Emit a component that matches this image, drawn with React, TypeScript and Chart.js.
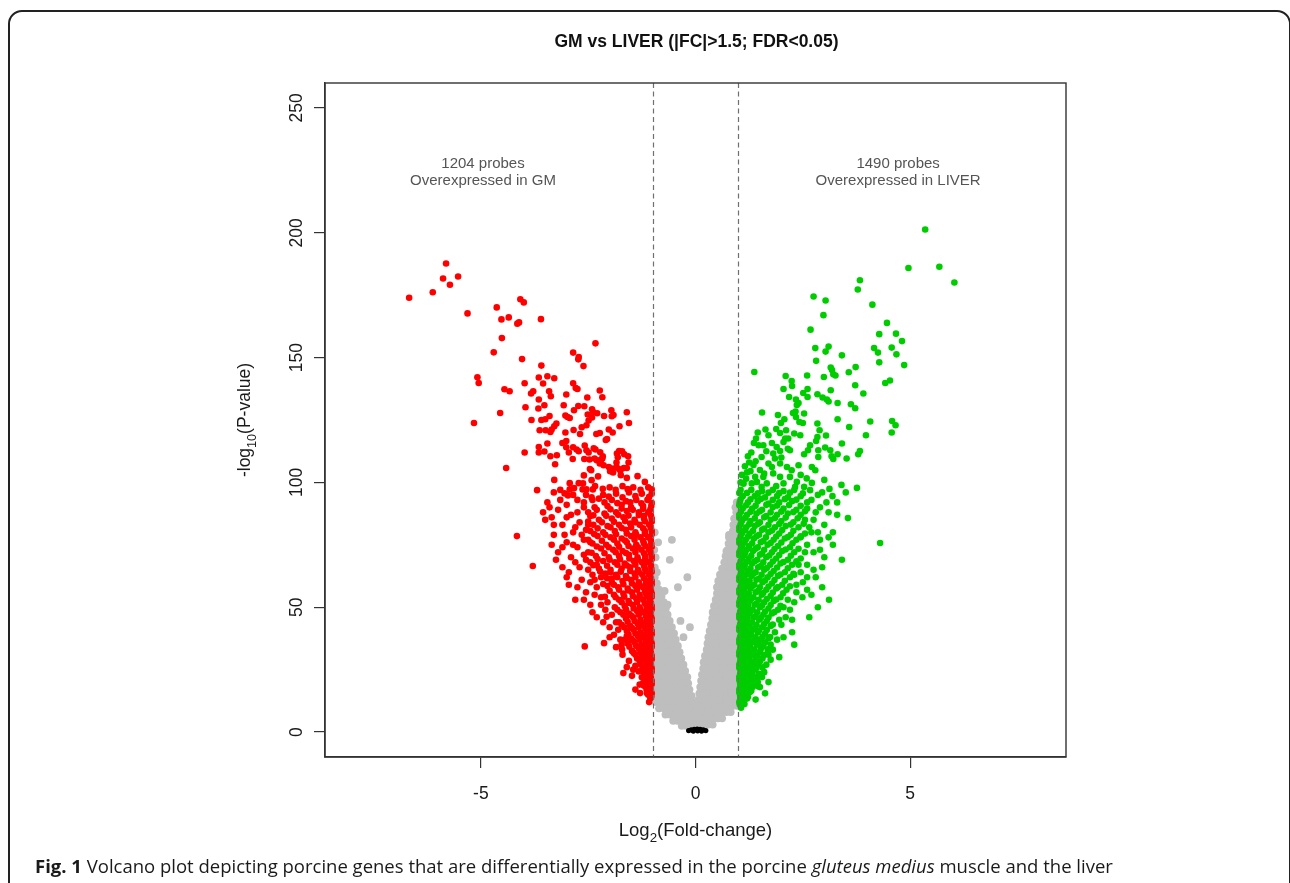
import React, { useEffect, useRef } from 'react';
import { Chart, registerables } from 'chart.js';

Chart.register(...registerables);

type Pt = [number, number];

const X_MIN = -8.63;
const X_MAX = 8.63;
const Y_MIN = -10;
const Y_MAX = 260;
const xTicks = [-5, 0, 5];
const yTicks = [0, 50, 100, 150, 200, 250];
const fcThresholds = [-1, 1];
const chartTitle = 'GM vs LIVER (|FC|>1.5; FDR<0.05)';
const annotationX = [-4.95, 4.72];
const annotationY = [226, 219];
const annotationLines = [
  ['1204 probes', 'Overexpressed in GM'],
  ['1490 probes', 'Overexpressed in LIVER'],
];

// probes overexpressed in GM (red)
const gmUpPoints: Pt[] = [
  [-6.67,174],[-6.12,176.2],[-5.88,181.7],[-5.81,187.7],[-5.72,179.2],[-5.53,182.5],[-5.31,167.7],[-4.63,170.1],[-4.52,165.3],[-4.35,166.1],
  [-4.08,173.4],[-4.0,172.1],[-4.15,163.6],[-4.11,164.1],[-3.6,165.4],[-4.51,157.8],[-4.7,152.1],[-4.04,149.4],[-2.33,155.7],[-2.85,152],
  [-2.72,150.2],[-2.73,149.3],[-2.61,146.6],[-3.59,146.8],[-5.08,142.1],[-5.05,139.8],[-4.45,137.3],[-4.33,136.5],[-5.16,123.8],[-4.55,127.8],
  [-3.98,139.7],[-3.65,142],[-3.45,142.5],[-3.29,141.7],[-3.55,139.6],[-3.78,136.5],[-3.83,135.6],[-3.41,136.5],[-3.37,134.5],[-3.65,133.2],
  [-3.52,130.9],[-3.96,130.1],[-3.66,129.6],[-3.4,126.6],[-3.5,125.3],[-3.59,125],[-3.82,125],[-3.24,123.6],[-3.29,122.5],[-3.63,120.9],
  [-3.49,120.9],[-3.38,120.2],[-3.35,121.2],[-3.98,112],[-3.65,114.2],[-3.65,112],[-3.52,112.4],[-3.45,115.6],[-3.38,110.5],[-3.23,110.9],
  [-3.27,107.3],[-4.41,105.8],[-3.29,101],[-3.69,96.9],
  [-2.85,139.7],[-2.79,137.8],[-2.75,137.4],[-2.23,136.8],[-2.17,134.1],[-3.01,135.2],[-2.52,134],[-3.07,130.9],[-2.83,128.9],[-2.73,130.6],
  [-2.59,130.5],[-2.41,129.3],[-2.38,128.1],[-2.29,127.7],[-2.41,126],[-2.51,127.2],[-2.49,124.8],[-2.13,126.6],[-1.96,128.9],[-1.91,127],
  [-1.95,126.5],[-1.6,128.1],[-1.55,123.8],[-1.77,122.5],[-3.03,126.8],[-2.98,126.2],[-2.93,125.8],[-2.65,122.1],[-2.54,122.9],[-3.03,120],
  [-2.84,121],[-2.69,119.4],[-2.31,119.4],[-2.23,119.8],[-2.09,117],[-2.06,117.4],[-2.02,121.2],[-1.93,120],[-3.1,115.8],[-3.01,116.6],
  [-3.01,114.1],[-2.85,114.1],[-2.77,113.2],[-2.72,112.5],[-2.95,112],[-2.86,109.4],[-2.58,114.8],[-2.54,112.9],[-2.49,112],[-2.37,113.7],
  [-2.33,113.2],[-2.22,112.1],[-2.16,110.5],[-2.59,109.4],[-2.47,109.2],[-2.35,109.6],[-2.3,108.9],[-2.23,108.9],[-2.17,109.6],[-1.83,111.6],
  [-1.78,112.6],[-1.71,112.5],[-1.66,111.3],[-1.57,110.5],[-1.81,110.1],[-1.84,108],[-1.56,108],[-2.46,105.4],[-2.43,104.9],[-2.23,107.6],
  [-2.2,107.8],[-2.14,106.9],[-2.02,106.2],[-1.95,105.6],[-1.99,104.5],[-1.92,104],[-2.6,102.8],[-2.42,100.9],[-2.27,102.4],[-1.84,106.2],
  [-1.78,105.4],[-1.75,104.8],[-1.67,105.8],[-1.6,105.8],[-1.74,102.9],[-1.6,101.8],[-1.35,102.5],[-1.18,100.2],[-2.93,99.7],[-2.83,97.7],
  [-2.93,97.2],[-3.05,95.6],[-2.97,94.8],[-2.72,99.7],[-2.62,99.6],[-2.63,97.2],[-2.54,97.2],[-2.39,97.2],[-2.34,98.5],
  [-1.1,98],[-1.45,98],[-1.7,98.5],[-2.0,98],
  [-1.02,95.5],[-1.25,95.5],[-1.55,96],[-1.85,95.5],[-2.15,95],
  [-1.12,93],[-1.38,93],[-1.62,92.5],[-1.95,93],[-2.25,93.5],
  [-1.03,90.5],[-1.22,90.5],[-1.5,90],[-1.72,91],[-2.05,90.5],[-2.35,90],
  [-1.1,88],[-1.32,88],[-1.6,88.5],[-1.85,88],[-2.12,87.5],[-2.5,88],
  [-1.02,85.5],[-1.2,85.5],[-1.42,85],[-1.68,86],[-1.95,85.5],[-2.25,85],
  [-1.08,83],[-1.3,83],[-1.52,83.5],[-1.78,83],[-2.05,82.5],[-2.38,83],
  [-1.02,80.5],[-1.18,80.5],[-1.4,80],[-1.62,81],[-1.88,80.5],[-2.15,80],[-2.45,80.5],
  [-1.1,78],[-1.28,78],[-1.5,78.5],[-1.72,77.5],[-1.98,78],[-2.28,78.5],
  [-1.03,75.5],[-1.2,75.5],[-1.38,75],[-1.6,76],[-1.82,75.5],[-2.08,75],[-2.4,75.5],
  [-1.08,73],[-1.26,73],[-1.46,73.5],[-1.7,72.5],[-1.92,73],[-2.2,73.5],
  [-1.02,70.5],[-1.17,70.5],[-1.35,70],[-1.55,71],[-1.78,70.5],[-2.02,70],[-2.32,70.5],
  [-1.1,68],[-1.25,68],[-1.44,68.5],[-1.65,67.5],[-1.88,68],[-2.15,68.5],
  [-1.03,65.5],[-1.18,65.5],[-1.34,65],[-1.52,66],[-1.72,65.5],[-1.98,65],[-2.25,65.5],
  [-1.08,63],[-1.24,63],[-1.42,63.5],[-1.62,62.5],[-1.85,63],[-2.1,63.5],
  [-1.02,60.5],[-1.15,60.5],[-1.32,60],[-1.5,61],[-1.7,60.5],[-1.95,60],
  [-1.08,58],[-1.22,58],[-1.4,58.5],[-1.58,57.5],[-1.8,58],[-2.05,58.5],
  [-1.02,55.5],[-1.15,55.5],[-1.3,55],[-1.48,56],[-1.68,55.5],[-1.9,55],
  [-1.07,53],[-1.22,53],[-1.38,53.5],[-1.56,52.5],[-1.78,53],
  [-1.02,50.5],[-1.14,50.5],[-1.3,50],[-1.46,51],[-1.65,50.5],[-1.88,50],
  [-1.07,48],[-1.2,48],[-1.36,48.5],[-1.55,47.5],[-1.75,48],
  [-1.02,45.5],[-1.13,45.5],[-1.28,45],[-1.45,46],[-1.62,45.5],
  [-1.06,43],[-1.2,43],[-1.35,43.5],[-1.52,42.5],[-1.72,43],
  [-1.02,40.5],[-1.14,40.5],[-1.28,40],[-1.44,41],[-1.6,40.5],
  [-1.06,38],[-1.19,38],[-1.34,38.5],[-1.5,37.5],
  [-1.02,35.5],[-1.13,35.5],[-1.26,35],[-1.42,36],[-1.58,35.5],
  [-1.06,33],[-1.18,33],[-1.32,33.5],[-1.48,32.5],
  [-1.02,30.5],[-1.12,30.5],[-1.25,30],[-1.4,31],
  [-1.06,28],[-1.17,28],[-1.3,28.5],
  [-1.02,25.5],[-1.12,25.5],[-1.24,25],
  [-1.06,23],[-1.18,23],[-1.48,22.5],
  [-1.02,20.5],[-1.12,20.5],
  [-1.06,18],[-1.2,18.5],
  [-1.02,15.5],[-1.13,15.5],
  [-1.05,13.5],
  [-1.02,97.2],[-1.28,97],[-1.58,97.3],[-1.86,97],[-2.16,97.4],
  [-1.08,94.2],[-1.4,94.5],[-1.7,94],[-2.02,94.3],[-2.42,94],
  [-1.02,91.8],[-1.26,91.6],[-1.52,92],[-1.82,91.7],[-2.12,92],
  [-1.05,89.2],[-1.22,89.4],[-1.46,89],[-1.72,89.5],[-1.98,89.2],[-2.3,89],
  [-1.04,86.8],[-1.2,86.6],[-1.32,86.9],[-1.56,86.7],[-1.8,87],[-2.08,86.6],[-2.38,86.8],
  [-1.02,84.2],[-1.18,84.4],[-1.4,84],[-1.64,84.5],[-1.9,84.2],[-2.18,84],[-2.5,84.3],
  [-1.04,81.8],[-1.22,81.6],[-1.5,82],[-1.72,81.7],[-1.98,82],[-2.28,81.6],
  [-1.02,79.2],[-1.18,79.4],[-1.38,79],[-1.6,79.5],[-1.85,79.2],[-2.1,79],[-2.36,79.3],
  [-1.04,76.8],[-1.22,76.6],[-1.42,77],[-1.64,76.7],[-1.9,77],[-2.18,76.6],[-2.5,77],
  [-1.02,74.2],[-1.16,74.4],[-1.34,74],[-1.56,74.5],[-1.78,74.2],[-2.02,74],[-2.3,74.3],
  [-1.04,71.8],[-1.2,71.6],[-1.4,72],[-1.62,71.7],[-1.86,72],[-2.12,71.6],[-2.42,71.8],
  [-1.02,69.2],[-1.17,69.4],[-1.34,69],[-1.54,69.5],[-1.76,69.2],[-2.0,69],[-2.28,69.3],
  [-1.04,66.8],[-1.2,66.6],[-1.4,67],[-1.6,66.7],[-1.82,67],[-2.06,66.6],[-2.38,66.8],
  [-1.02,64.2],[-1.16,64.4],[-1.32,64],[-1.52,64.5],[-1.74,64.2],[-1.98,64],[-2.22,64.3],
  [-1.04,61.8],[-1.2,61.6],[-1.4,62],[-1.6,61.7],[-1.82,62],[-2.06,61.6],
  [-1.02,59.2],[-1.15,59.4],[-1.3,59],[-1.48,59.5],[-1.68,59.2],[-1.9,59],[-2.15,59.3],
  [-1.04,56.8],[-1.18,56.6],[-1.36,57],[-1.56,56.7],[-1.78,57],[-2.0,56.6],
  [-1.02,54.2],[-1.14,54.4],[-1.3,54],[-1.46,54.5],[-1.66,54.2],[-1.86,54],
  [-1.04,51.8],[-1.18,51.6],[-1.36,52],[-1.54,51.7],[-1.72,52],
  [-1.02,49.2],[-1.13,49.4],[-1.28,49],[-1.44,49.5],[-1.62,49.2],[-1.82,49],
  [-1.04,46.8],[-1.16,46.6],[-1.32,47],[-1.5,46.7],[-1.68,47],
  [-1.02,44.2],[-1.13,44.4],[-1.27,44],[-1.42,44.5],[-1.58,44.2],[-1.78,44],
  [-1.04,41.8],[-1.17,41.6],[-1.32,42],[-1.48,41.7],[-1.66,42],
  [-1.02,39.2],[-1.12,39.4],[-1.26,39],[-1.4,39.5],[-1.56,39.2],
  [-1.04,36.8],[-1.16,36.6],[-1.3,37],[-1.46,36.7],[-1.64,37],
  [-1.02,34.2],[-1.12,34.4],[-1.25,34],[-1.38,34.5],[-1.54,34.2],
  [-1.04,31.8],[-1.15,31.6],[-1.28,32],[-1.44,31.7],
  [-1.02,29.2],[-1.11,29.4],[-1.22,29],[-1.36,29.5],
  [-1.04,26.8],[-1.14,26.6],[-1.27,27],[-1.4,26.5],
  [-1.02,24.2],[-1.1,24.4],[-1.2,24],[-1.32,24.3],
  [-1.04,21.8],[-1.14,21.6],[-1.25,21.9],
  [-1.02,19.2],[-1.1,19.4],[-1.22,19.6],
  [-1.04,16.8],[-1.14,17],
  [-1.03,14.2],[-1.08,12],
  [-2.55,95],[-2.75,93],[-3.0,91],[-3.2,89],[-2.6,90],[-2.9,87],[-3.35,86],[-2.7,84],[-3.1,83],[-2.55,81],
  [-2.85,80],[-3.3,79],[-2.6,77],[-3.0,76],[-2.75,74],[-3.2,72],[-2.5,72],[-2.9,70],[-2.45,68],[-2.7,66],
  [-3.1,66],[-3.79,66.5],[-2.4,63],[-2.65,61],[-2.95,59],[-2.3,58],[-2.55,56],[-2.2,54],[-2.8,53],[-2.45,51],
  [-2.1,49],[-2.3,46],[-2.07,46.2],[-2.11,54.2],[-2.13,35.6],[-1.72,34.9],[-1.68,23.6],[-1.29,15.6],[-1.1,14.9],[-2.0,42],
  [-1.9,39],[-1.85,44],[-2.58,34.3],[-1.71,33],[-1.3,19],[-4.16,78.5],[-3.5,85],[-3.45,92],[-3.3,96],
  [-2.45,86.5],[-1.95,61.5],[-1.55,28.5],[-1.6,38.5],[-2.2,62],[-2.3,67],[-2.55,69],
  [-2.6,92],[-2.85,95],[-3.15,93],[-2.5,83],[-2.8,82],[-3.05,79],[-2.65,79],[-2.45,76],[-2.85,75],[-3.1,74],
  [-2.6,71],[-2.8,68],[-2.5,65],[-2.95,64],[-2.35,61],[-2.75,58],[-2.45,60],[-2.6,53],[-2.35,55],[-2.2,51],
  [-2.05,52],[-2.4,48],[-1.95,47],[-2.15,44],[-1.8,41],[-2.0,38],[-1.75,37],[-1.7,31],[-1.85,34],[-1.6,26],
  [-1.45,25],[-1.4,17],[-3.3,83],[-3.0,86],[-2.75,88],[-3.4,90],[-3.55,88],[-3.15,97],[-2.4,93],[-3.35,75],
  [-3.0,62],[-3.25,69],
];

// probes overexpressed in LIVER (green)
const liverUpPoints: Pt[] = [
  [5.35,201.3],[4.96,185.9],[5.68,186.4],[6.03,180.1],[3.83,181],[3.78,177.3],[2.75,174.5],[3.03,172.9],[2.98,167],[4.12,171.2],
  [2.68,161.2],[4.46,163.9],[4.28,159.4],[4.67,159.6],[4.81,156.6],[4.16,153.8],[4.25,152],[4.57,154],[4.68,151.3],[4.28,148.1],
  [4.86,147],[2.79,153.8],[3.1,154.4],[3.03,152.4],[3.41,150.9],[2.81,148.7],[1.37,144.2],[2.1,142.6],[2.6,142.8],[3.15,146],
  [3.18,145],[3.21,143.3],[3.26,142.8],[2.99,142.2],[3.57,144.1],[3.73,146.2],[2.24,140.6],[2.25,138.6],[2.05,137.4],[2.61,137.4],
  [2.61,134.2],[2.51,135.8],[2.18,134.2],[3.15,136.9],[3.72,138.9],[3.91,135.6],[4.42,139.8],[4.53,140.8],[2.84,135.3],[2.96,134],
  [3.06,133.2],[3.1,132.4],[3.31,131.8],[3.62,131.3],[3.72,129.7],[2.34,133.2],[2.36,131],[2.4,131.8],[2.27,127.8],[2.33,128.4],
  [2.34,126.2],[2.53,127.6],[2.07,125.3],[1.99,123.8],[1.55,128],[1.92,127],[2.42,124.2],[2.5,123.8],[2.84,123.6],[3.31,125.3],
  [3.58,122.2],[4.07,124.4],[4.58,124.6],[4.66,122.9],[4.57,120],[3.97,118.9],[1.63,121.2],[1.88,121.4],[1.97,119.8],[2.11,120.9],
  [2.09,117.6],[2.3,119.6],[2.44,118.9],[2.89,120.9],[2.84,118.2],[3.04,118.8],[1.41,117.6],[1.36,115.8],[1.47,114.9],[1.58,114.9],
  [1.7,118.9],[1.78,115.8],[1.89,114.2],[1.97,112.6],[1.81,111.6],[2.05,116.2],[2.16,117.6],[2.2,112.9],[2.67,114.9],[2.62,112.9],
  [2.81,116.6],[2.86,112.9],[3.02,114],[3.14,112.9],[3.17,110.5],[2.53,111.3],[3.41,115.6],[3.31,111.3],[3.21,109.4],[3.52,109.6],
  [3.83,112.6],[3.79,111.3],[1.54,110.2],[1.7,107.6],[1.85,109.6],[1.78,106.2],[1.97,107.6],[2.13,106.2],[2.24,104.9],[2.4,106.9],
  [2.71,106.2],[2.79,104.9],[2.86,110.2],[1.39,102.2],[1.43,100.2],[1.31,99.6],[1.58,102.2],[1.66,99.6],[1.54,98.2],[1.81,103.6],
  [1.97,102.2],[2.05,99.6],[2.2,102.2],[2.36,100.2],[2.32,98.2],[2.59,101.6],[2.71,99.8],[2.53,98.2],[2.67,96.9],[3.12,97.4],
  [3.19,94.5],[3.76,97.8],[3.55,85.7],[3.41,69],[4.3,75.7],[3.11,53],
  [1.25,108],[1.3,112],[1.5,105],[1.65,112.5],[1.45,120],[2.0,110],[2.15,113.5],[1.6,103.5],[1.88,98.5],[2.45,103],[1.2,104],[1.12,99.5],
  [1.05,100],[1.18,101.5],[1.08,103],[1.28,104.5],[1.15,106.5],[1.4,108.5],[1.22,110.5],[1.35,107],
  [1.05,97],[1.3,97],[1.55,96.5],[1.8,97],[2.05,96.5],[2.3,97],
  [1.1,94.5],[1.38,94.5],[1.62,94],[1.9,94.5],[2.15,94],[2.45,94.5],
  [1.03,92],[1.22,92],[1.45,92.5],[1.7,91.5],[1.95,92],[2.25,92.5],
  [1.1,89.5],[1.32,89.5],[1.55,89],[1.8,90],[2.05,89.5],[2.35,89],[2.6,89.5],
  [1.02,87],[1.2,87],[1.42,87.5],[1.65,86.5],[1.9,87],[2.15,87.5],[2.45,87],
  [1.08,84.5],[1.28,84.5],[1.5,84],[1.75,85],[2.0,84.5],[2.28,84],
  [1.02,82],[1.18,82],[1.38,82.5],[1.6,81.5],[1.85,82],[2.1,82.5],[2.4,82],
  [1.08,79.5],[1.26,79.5],[1.48,79],[1.7,80],[1.95,79.5],[2.22,79],[2.55,79.5],
  [1.02,77],[1.17,77],[1.36,77.5],[1.58,76.5],[1.82,77],[2.08,77.5],[2.35,77],
  [1.08,74.5],[1.25,74.5],[1.45,74],[1.68,75],[1.92,74.5],[2.2,74],
  [1.02,72],[1.16,72],[1.34,72.5],[1.55,71.5],[1.78,72],[2.02,72.5],[2.3,72],
  [1.08,69.5],[1.24,69.5],[1.44,69],[1.65,70],[1.88,69.5],[2.15,69],[2.45,69.5],
  [1.02,67],[1.15,67],[1.32,67.5],[1.52,66.5],[1.74,67],[1.98,67.5],[2.25,67],
  [1.07,64.5],[1.22,64.5],[1.4,64],[1.6,65],[1.82,64.5],[2.08,64],
  [1.02,62],[1.14,62],[1.3,62.5],[1.48,61.5],[1.68,62],[1.92,62.5],[2.2,62],
  [1.07,59.5],[1.2,59.5],[1.37,59],[1.56,60],[1.78,59.5],[2.02,59],
  [1.02,57],[1.13,57],[1.28,57.5],[1.45,56.5],[1.65,57],[1.88,57.5],[2.12,57],
  [1.06,54.5],[1.2,54.5],[1.35,54],[1.54,55],[1.75,54.5],[1.98,54],
  [1.02,52],[1.12,52],[1.26,52.5],[1.42,51.5],[1.6,52],[1.82,52.5],
  [1.06,49.5],[1.18,49.5],[1.33,49],[1.5,50],[1.7,49.5],[1.92,49],
  [1.02,47],[1.12,47],[1.25,47.5],[1.4,46.5],[1.58,47],[1.78,47.5],
  [1.06,44.5],[1.17,44.5],[1.32,44],[1.48,45],[1.66,44.5],
  [1.02,42],[1.11,42],[1.24,42.5],[1.38,41.5],[1.55,42],[1.75,42.5],
  [1.06,39.5],[1.16,39.5],[1.3,39],[1.45,40],[1.62,39.5],
  [1.02,37],[1.1,37],[1.22,37.5],[1.36,36.5],[1.52,37],[1.7,37.5],
  [1.05,34.5],[1.15,34.5],[1.28,34],[1.43,35],[1.58,34.5],
  [1.02,32],[1.1,32],[1.21,32.5],[1.34,31.5],[1.5,32],
  [1.05,29.5],[1.14,29.5],[1.26,29],[1.4,30],[1.56,29.5],
  [1.02,27],[1.1,27],[1.2,27.5],[1.32,26.5],[1.46,27],
  [1.05,24.5],[1.14,24.5],[1.25,24],[1.38,25],
  [1.02,22],[1.09,22],[1.19,22.5],[1.3,21.5],[1.45,22],
  [1.04,19.5],[1.13,19.5],[1.24,19],[1.36,20],
  [1.02,17],[1.08,17],[1.18,17.5],[1.3,16.5],
  [1.04,14.5],[1.12,14.5],[1.22,14],
  [1.02,12],[1.1,12.5],
  [1.06,9.7],
  [1.02,95.8],[1.2,95.8],[1.45,95.6],[1.7,95.9],[1.95,95.7],[2.2,95.9],[2.5,95.6],
  [1.05,93.2],[1.28,93.2],[1.52,93.4],[1.8,93],[2.08,93.3],[2.35,93.1],
  [1.02,90.8],[1.18,90.8],[1.4,90.6],[1.65,91],[1.9,90.7],[2.18,90.9],[2.45,90.6],
  [1.06,88.2],[1.28,88.2],[1.5,88.4],[1.75,88],[2.0,88.3],[2.28,88.1],[2.55,88.4],
  [1.02,85.8],[1.16,85.8],[1.38,85.6],[1.6,86],[1.85,85.7],[2.1,85.9],[2.38,85.6],
  [1.05,83.2],[1.25,83.2],[1.46,83.4],[1.7,83],[1.95,83.3],[2.22,83.1],[2.52,83.4],
  [1.02,80.8],[1.15,80.8],[1.34,80.6],[1.55,81],[1.78,80.7],[2.02,80.9],[2.28,80.6],
  [1.05,78.2],[1.22,78.2],[1.42,78.4],[1.64,78],[1.88,78.3],[2.15,78.1],[2.45,78.4],
  [1.02,75.8],[1.14,75.8],[1.32,75.6],[1.52,76],[1.75,75.7],[2.0,75.9],[2.26,75.6],
  [1.05,73.2],[1.2,73.2],[1.4,73.4],[1.6,73],[1.84,73.3],[2.1,73.1],[2.4,73.4],
  [1.02,70.8],[1.14,70.8],[1.3,70.6],[1.5,71],[1.72,70.7],[1.95,70.9],[2.22,70.6],
  [1.05,68.2],[1.2,68.2],[1.38,68.4],[1.58,68],[1.8,68.3],[2.05,68.1],[2.35,68.4],
  [1.02,65.8],[1.13,65.8],[1.28,65.6],[1.46,66],[1.66,65.7],[1.9,65.9],[2.15,65.6],
  [1.05,63.2],[1.18,63.2],[1.35,63.4],[1.54,63],[1.75,63.3],[1.98,63.1],[2.28,63.4],
  [1.02,60.8],[1.12,60.8],[1.26,60.6],[1.42,61],[1.62,60.7],[1.84,60.9],[2.08,60.6],
  [1.05,58.2],[1.17,58.2],[1.32,58.4],[1.5,58],[1.7,58.3],[1.92,58.1],[2.2,58.4],
  [1.02,55.8],[1.12,55.8],[1.24,55.6],[1.4,56],[1.58,55.7],[1.8,55.9],[2.04,55.6],
  [1.04,53.2],[1.16,53.2],[1.3,53.4],[1.47,53],[1.66,53.3],[1.88,53.1],
  [1.02,50.8],[1.11,50.8],[1.23,50.6],[1.38,51],[1.55,50.7],[1.75,50.9],[1.98,50.6],
  [1.04,48.2],[1.15,48.2],[1.28,48.4],[1.44,48],[1.62,48.3],[1.84,48.1],
  [1.02,45.8],[1.1,45.8],[1.21,45.6],[1.35,46],[1.52,45.7],[1.7,45.9],
  [1.04,43.2],[1.14,43.2],[1.27,43.4],[1.42,43],[1.6,43.3],[1.8,43.1],
  [1.02,40.8],[1.1,40.8],[1.2,40.6],[1.33,41],[1.48,40.7],[1.66,40.9],
  [1.04,38.2],[1.13,38.2],[1.25,38.4],[1.4,38],[1.56,38.3],[1.74,38.1],
  [1.02,35.8],[1.09,35.8],[1.19,35.6],[1.31,36],[1.46,35.7],[1.62,35.9],
  [1.04,33.2],[1.13,33.2],[1.24,33.4],[1.37,33],[1.52,33.3],[1.68,33.1],
  [1.02,30.8],[1.09,30.8],[1.18,30.6],[1.3,31],[1.44,30.7],[1.6,30.9],
  [1.04,28.2],[1.12,28.2],[1.23,28.4],[1.36,28],[1.5,28.3],
  [1.02,25.8],[1.08,25.8],[1.17,25.6],[1.28,26],[1.42,25.7],[1.56,25.9],
  [1.04,23.2],[1.11,23.2],[1.21,23.4],[1.33,23],[1.48,23.3],
  [1.02,20.8],[1.08,20.8],[1.16,20.6],[1.26,21],[1.4,20.7],
  [1.04,18.2],[1.11,18.2],[1.2,18.4],[1.33,18],[1.46,18.3],
  [1.02,15.8],[1.08,15.8],[1.16,15.6],[1.27,16],
  [1.04,13.2],[1.12,13.2],[1.2,13.4],
  [1.03,11],[1.14,11.2],
  [2.7,93],[2.9,90],[3.1,88],[2.75,85],[3.0,83],[2.7,80],[2.9,77],[3.2,80],[2.6,75],[2.75,72],
  [3.0,70],[2.6,67],[2.45,64],[2.8,62],[2.35,59],[2.6,57],[2.49,54],[2.3,52],[2.1,46],[2.0,43],
  [2.2,49],[1.9,37],[1.8,33],[1.75,29],[1.6,24],[1.5,18],[2.95,58],[3.3,92],[3.5,96],[2.25,40],
  [1.95,30],[1.62,15.5],[1.7,20],[2.5,60],[2.65,46],
  [2.6,92],[2.85,95],[2.55,85],[2.8,88],[3.05,92],[2.65,82],[2.45,78],[2.85,80],[3.1,78],[2.55,72],
  [2.9,73],[2.4,67],[2.75,65],[2.3,63],[2.6,62],[2.35,56],[2.15,53],[2.7,55],[2.05,50],[1.95,45],
  [2.25,45],[1.85,40],[2.05,38],[1.75,35],[1.7,31],[1.65,27],[1.55,22],[1.45,20],[1.4,13],[3.3,87],
  [3.2,75],[2.95,66],[2.85,50],[2.3,35],[3.4,99],[3.0,101],[2.95,96],
];

// not differentially expressed (grey)
const nsPoints: Pt[] = [
  [-0.87,76],[-0.55,77],[-0.6,69],[-0.19,62],[-0.41,58],[-0.13,42],[-0.95,66],[-0.93,70],[-0.96,73],[-0.9,64],
  [-0.72,56.5],[-0.65,51],[-0.95,80],[-0.35,44.5],[-0.28,38],
  [-0.95,62],
  [-0.97,59.5],[-0.9,59.5],
  [-0.95,57],[-0.85,57],
  [-0.98,54.5],[-0.88,54.5],[-0.79,54.5],
  [-0.95,52],[-0.84,52],[-0.74,52],
  [-0.98,49.5],[-0.87,49.5],[-0.77,49.5],[-0.69,49.5],
  [-0.95,47],[-0.84,47],[-0.73,47],[-0.65,47],
  [-0.98,44.5],[-0.87,44.5],[-0.76,44.5],[-0.66,44.5],[-0.6,44.5],
  [-0.95,42],[-0.84,42],[-0.73,42],[-0.63,42],[-0.55,42],
  [-0.98,39.5],[-0.87,39.5],[-0.76,39.5],[-0.66,39.5],[-0.57,39.5],[-0.5,39.5],
  [-0.95,37],[-0.84,37],[-0.73,37],[-0.63,37],[-0.54,37],[-0.46,37],
  [-0.98,34.5],[-0.87,34.5],[-0.76,34.5],[-0.66,34.5],[-0.56,34.5],[-0.47,34.5],[-0.41,34.5],
  [-0.95,32],[-0.84,32],[-0.73,32],[-0.63,32],[-0.53,32],[-0.44,32],[-0.37,32],
  [-0.98,29.5],[-0.87,29.5],[-0.76,29.5],[-0.66,29.5],[-0.56,29.5],[-0.46,29.5],[-0.38,29.5],[-0.33,29.5],
  [-0.95,27],[-0.84,27],[-0.73,27],[-0.62,27],[-0.52,27],[-0.42,27],[-0.34,27],[-0.28,27],
  [-0.98,24.5],[-0.87,24.5],[-0.76,24.5],[-0.65,24.5],[-0.55,24.5],[-0.45,24.5],[-0.36,24.5],[-0.28,24.5],[-0.24,24.5],
  [-0.95,22],[-0.84,22],[-0.73,22],[-0.62,22],[-0.52,22],[-0.42,22],[-0.32,22],[-0.24,22],[-0.19,22],
  [-0.97,19.5],[-0.86,19.5],[-0.75,19.5],[-0.64,19.5],[-0.54,19.5],[-0.44,19.5],[-0.34,19.5],[-0.25,19.5],[-0.17,19.5],
  [-0.95,17],[-0.84,17],[-0.73,17],[-0.62,17],[-0.51,17],[-0.41,17],[-0.31,17],[-0.22,17],[-0.14,17],
  [-0.97,14.5],[-0.86,14.5],[-0.75,14.5],[-0.64,14.5],[-0.53,14.5],[-0.43,14.5],[-0.33,14.5],[-0.23,14.5],[-0.14,14.5],[-0.09,14.5],
  [-0.93,12],[-0.82,12],[-0.71,12],[-0.6,12],[-0.5,12],[-0.4,12],[-0.3,12],[-0.2,12],[-0.11,12],[-0.06,12],
  [-0.85,9.5],[-0.74,9.5],[-0.63,9.5],[-0.53,9.5],[-0.43,9.5],[-0.33,9.5],[-0.23,9.5],[-0.13,9.5],[-0.04,9.5],
  [-0.7,7],[-0.6,7],[-0.5,7],[-0.4,7],[-0.3,7],[-0.2,7],[-0.1,7],[-0.02,7],
  [-0.52,4.5],[-0.42,4.5],[-0.32,4.5],[-0.22,4.5],[-0.12,4.5],[-0.03,4.5],
  [-0.32,2.5],[-0.22,2.5],[-0.12,2.5],
  [0.78,79],[0.61,58.5],[0.93,90],[0.96,92],[0.72,72.5],[0.55,56],
  [0.95,88],
  [0.97,85.5],[0.9,85.5],
  [0.95,83],[0.88,83],
  [0.97,80.5],[0.87,80.5],
  [0.95,78],[0.85,78],[0.78,78],
  [0.97,75.5],[0.87,75.5],[0.77,75.5],
  [0.95,73],[0.85,73],[0.75,73],
  [0.97,70.5],[0.87,70.5],[0.77,70.5],[0.7,70.5],
  [0.95,68],[0.85,68],[0.75,68],[0.67,68],
  [0.97,65.5],[0.87,65.5],[0.77,65.5],[0.67,65.5],[0.62,65.5],
  [0.95,63],[0.85,63],[0.75,63],[0.65,63],[0.57,63],
  [0.97,60.5],[0.87,60.5],[0.77,60.5],[0.67,60.5],[0.58,60.5],[0.53,60.5],
  [0.95,58],[0.85,58],[0.75,58],[0.65,58],[0.56,58],[0.5,58],
  [0.97,55.5],[0.87,55.5],[0.77,55.5],[0.67,55.5],[0.58,55.5],[0.5,55.5],
  [0.95,53],[0.85,53],[0.75,53],[0.65,53],[0.56,53],[0.47,53],
  [0.97,50.5],[0.87,50.5],[0.77,50.5],[0.67,50.5],[0.57,50.5],[0.48,50.5],[0.43,50.5],
  [0.95,48],[0.85,48],[0.75,48],[0.65,48],[0.55,48],[0.46,48],[0.4,48],
  [0.97,45.5],[0.87,45.5],[0.77,45.5],[0.67,45.5],[0.57,45.5],[0.48,45.5],[0.39,45.5],
  [0.95,43],[0.85,43],[0.75,43],[0.65,43],[0.55,43],[0.45,43],[0.36,43],
  [0.97,40.5],[0.87,40.5],[0.77,40.5],[0.67,40.5],[0.57,40.5],[0.47,40.5],[0.38,40.5],[0.33,40.5],
  [0.95,38],[0.85,38],[0.75,38],[0.65,38],[0.55,38],[0.45,38],[0.36,38],[0.3,38],
  [0.97,35.5],[0.87,35.5],[0.77,35.5],[0.67,35.5],[0.57,35.5],[0.47,35.5],[0.37,35.5],[0.28,35.5],
  [0.95,33],[0.85,33],[0.75,33],[0.65,33],[0.55,33],[0.45,33],[0.35,33],[0.26,33],
  [0.97,30.5],[0.87,30.5],[0.77,30.5],[0.67,30.5],[0.57,30.5],[0.47,30.5],[0.37,30.5],[0.28,30.5],[0.22,30.5],
  [0.95,28],[0.85,28],[0.75,28],[0.65,28],[0.55,28],[0.45,28],[0.35,28],[0.26,28],[0.19,28],
  [0.97,25.5],[0.87,25.5],[0.77,25.5],[0.67,25.5],[0.57,25.5],[0.47,25.5],[0.37,25.5],[0.27,25.5],[0.18,25.5],
  [0.95,23],[0.85,23],[0.75,23],[0.65,23],[0.55,23],[0.45,23],[0.35,23],[0.25,23],[0.15,23],
  [0.97,20.5],[0.87,20.5],[0.77,20.5],[0.67,20.5],[0.57,20.5],[0.47,20.5],[0.37,20.5],[0.27,20.5],[0.18,20.5],[0.13,20.5],
  [0.95,18],[0.85,18],[0.75,18],[0.65,18],[0.55,18],[0.45,18],[0.35,18],[0.25,18],[0.16,18],[0.11,18],
  [0.97,15.5],[0.87,15.5],[0.77,15.5],[0.67,15.5],[0.57,15.5],[0.47,15.5],[0.37,15.5],[0.27,15.5],[0.17,15.5],[0.09,15.5],
  [0.95,13],[0.85,13],[0.75,13],[0.65,13],[0.55,13],[0.45,13],[0.35,13],[0.25,13],[0.15,13],[0.07,13],
  [0.97,10.5],[0.87,10.5],[0.77,10.5],[0.67,10.5],[0.57,10.5],[0.47,10.5],[0.37,10.5],[0.27,10.5],[0.17,10.5],[0.08,10.5],[0.04,10.5],
  [0.82,8],[0.72,8],[0.62,8],[0.52,8],[0.42,8],[0.32,8],[0.22,8],[0.12,8],[0.04,8],
  [0.62,5.5],[0.52,5.5],[0.42,5.5],[0.32,5.5],[0.22,5.5],[0.12,5.5],[0.04,5.5],
  [0.4,3],[0.3,3],[0.2,3],[0.1,3],[0.02,3],[-0.05,3],
];

// probes at the bottom of the plot (black)
const baselinePoints: Pt[] = [
  [-0.16,0.6],[-0.1,0.9],[-0.03,1.1],[0.04,1.2],[0.11,1.1],[0.18,0.9],[0.24,0.6],[-0.05,0.4],[0.05,0.5],[0.14,0.4],
];

const SANS = '"Liberation Sans", Arial, Helvetica, sans-serif';
const AXIS_FONT = 17.5;
const XTITLE_FONT = 18.5;

type Part = { t: string; sub?: boolean };

function drawParts(ctx: CanvasRenderingContext2D, parts: Part[], x: number, y: number, size: number, rotate: boolean) {
  ctx.save();
  ctx.translate(x, y);
  if (rotate) ctx.rotate(-Math.PI / 2);
  ctx.textAlign = 'left';
  ctx.textBaseline = 'alphabetic';
  const widths = parts.map((p) => {
    ctx.font = `${p.sub ? size * 0.72 : size}px ${SANS}`;
    return ctx.measureText(p.t).width;
  });
  const total = widths.reduce((a, b) => a + b, 0);
  let cx = -total / 2;
  parts.forEach((p, i) => {
    ctx.font = `${p.sub ? size * 0.72 : size}px ${SANS}`;
    ctx.fillText(p.t, cx, p.sub ? size * 0.32 : 0);
    cx += widths[i];
  });
  ctx.restore();
}

const decorPlugin = {
  id: 'decor',
  afterDatasetsDraw(chart: any) {
    const { ctx, chartArea: a, scales } = chart;
    const xs = scales.x;
    const ys = scales.y;
    ctx.save();
    ctx.strokeStyle = '#707070';
    ctx.lineWidth = 1.2;
    ctx.setLineDash([5, 3.5]);
    fcThresholds.forEach((v) => {
      const px = Math.round(xs.getPixelForValue(v)) + 0.5;
      ctx.beginPath();
      ctx.moveTo(px, a.top);
      ctx.lineTo(px, a.bottom);
      ctx.stroke();
    });
    ctx.setLineDash([]);
    ctx.strokeStyle = '#333';
    ctx.lineWidth = 1.4;
    ctx.strokeRect(a.left, a.top, a.right - a.left, a.bottom - a.top);

    ctx.fillStyle = '#555';
    ctx.font = `15px ${SANS}`;
    ctx.textAlign = 'center';
    ctx.textBaseline = 'alphabetic';
    annotationX.forEach((ax, i) => {
      annotationLines[i].forEach((line, j) => {
        ctx.fillText(line, xs.getPixelForValue(ax), ys.getPixelForValue(annotationY[j]));
      });
    });

    ctx.fillStyle = '#111';
    ctx.font = `bold 17.5px ${SANS}`;
    ctx.fillText(chartTitle, (a.left + a.right) / 2 + 1, a.top - 36);

    ctx.fillStyle = '#1a1a1a';
    ctx.font = `${AXIS_FONT}px ${SANS}`;
    xs.ticks.forEach((t: any) => {
      ctx.fillText(String(t.value), xs.getPixelForValue(t.value), a.bottom + 42);
    });
    ys.ticks.forEach((t: any) => {
      ctx.save();
      ctx.translate(a.left - 23, ys.getPixelForValue(t.value));
      ctx.rotate(-Math.PI / 2);
      ctx.textAlign = 'center';
      ctx.fillText(String(t.value), 0, 0);
      ctx.restore();
    });

    drawParts(ctx, [{ t: 'Log' }, { t: '2', sub: true }, { t: '(Fold-change)' }], (a.left + a.right) / 2, a.bottom + 79, XTITLE_FONT, false);
    drawParts(ctx, [{ t: '-log' }, { t: '10', sub: true }, { t: '(P-value)' }], a.left - 75, (a.top + a.bottom) / 2, AXIS_FONT, true);
    ctx.restore();
  },
};

const toXY = (pts: Pt[]) => pts.map(([x, y]) => ({ x, y }));

export default function App() {
  const ref = useRef<HTMLCanvasElement | null>(null);

  useEffect(() => {
    if (!ref.current) return;
    const axisCommon = {
      type: 'linear' as const,
      grid: { display: true, drawOnChartArea: false, drawTicks: true, tickLength: 11, color: '#333', lineWidth: 1.2 },
      border: { display: true, color: '#333', width: 1.4 },
      ticks: { color: 'rgba(0,0,0,0)', font: { size: AXIS_FONT, family: SANS } },
    };
    const chart = new Chart(ref.current, {
      type: 'scatter',
      data: {
        datasets: [
          { label: 'GM', data: toXY(gmUpPoints), backgroundColor: '#ff0000', pointRadius: 3.3, pointBorderWidth: 0, borderWidth: 0 },
          { label: 'LIVER', data: toXY(liverUpPoints), backgroundColor: '#00cd00', pointRadius: 3.3, pointBorderWidth: 0, borderWidth: 0 },
          { label: 'base', data: toXY(baselinePoints), backgroundColor: '#000000', pointRadius: 2.6, pointBorderWidth: 0, borderWidth: 0 },
          { label: 'NS', data: toXY(nsPoints), backgroundColor: '#bebebe', pointRadius: 3.9, pointBorderWidth: 0, borderWidth: 0 },
        ],
      },
      options: {
        animation: false,
        responsive: false,
        events: [],
        layout: { padding: { left: 0, right: 224, top: 83, bottom: 0 } },
        plugins: { legend: { display: false }, tooltip: { enabled: false }, title: { display: false } },
        scales: {
          x: {
            ...axisCommon,
            position: 'bottom',
            min: X_MIN,
            max: X_MAX,
            afterBuildTicks: (s: any) => { s.ticks = xTicks.map((v) => ({ value: v })); },
            afterFit: (s: any) => { s.height = 126; },
          },
          y: {
            ...axisCommon,
            position: 'left',
            min: Y_MIN,
            max: Y_MAX,
            afterBuildTicks: (s: any) => { s.ticks = yTicks.map((v) => ({ value: v })); },
            afterFit: (s: any) => { s.width = 325; },
          },
        },
      } as any,
      plugins: [decorPlugin],
    });
    return () => chart.destroy();
  }, []);

  return (
    <div style={{ position: 'absolute', left: 0, top: 0, width: 1290, height: 883, overflow: 'hidden', background: '#fff' }}>
      <div
        style={{
          position: 'absolute', left: 8, top: 10, width: 1283, height: 920, boxSizing: 'border-box',
          border: '2px solid #222', borderRadius: 14,
        }}
      />
      <canvas ref={ref} width={1290} height={883} style={{ position: 'absolute', left: 0, top: 0, width: 1290, height: 883 }} />
      <div
        style={{
          position: 'absolute', left: 35, top: 856, whiteSpace: 'nowrap', color: '#1a1a1a',
          fontFamily: '"Open Sans", "Noto Sans", sans-serif', fontSize: 18.5, lineHeight: '19px',
        }}
      >
        <b>Fig. 1</b> Volcano plot depicting porcine genes that are differentially expressed in the porcine <i>gluteus medius</i> muscle and the liver
      </div>
    </div>
  );
}
